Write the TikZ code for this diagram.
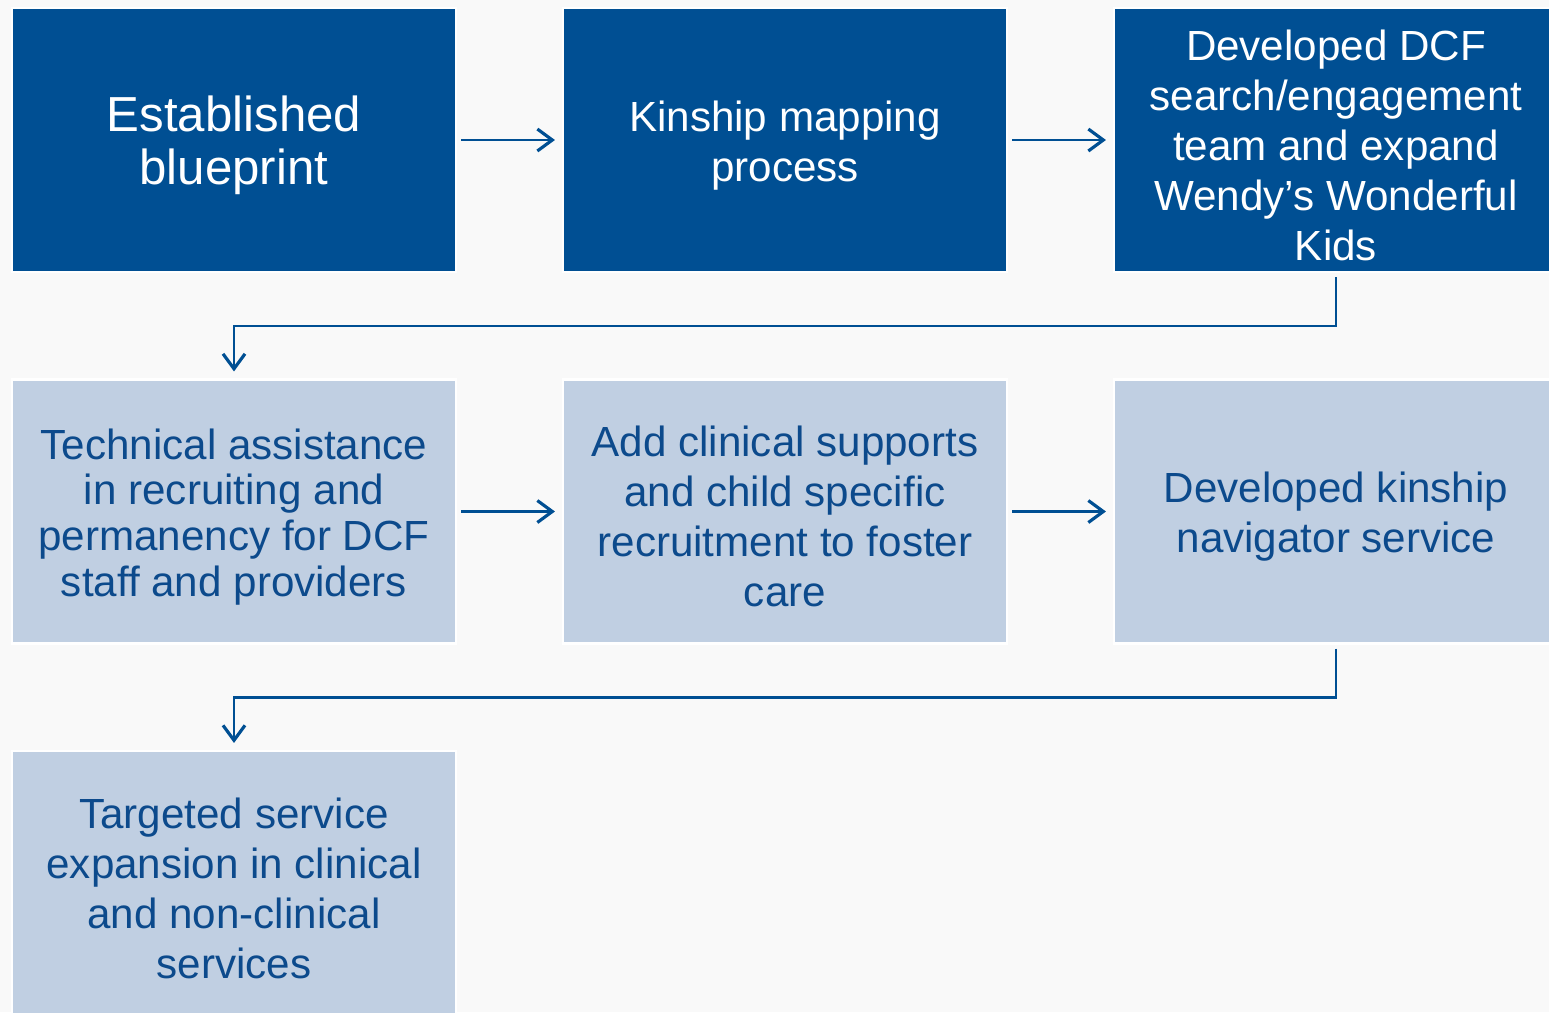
\documentclass[tikz,border=0pt]{standalone}
\usepackage{fontspec}
\setmainfont{Liberation Sans}
\usetikzlibrary{arrows.meta}
\definecolor{bgray}{HTML}{F9F9F9}
\definecolor{dcfblue}{HTML}{004F93}
\definecolor{dcflight}{HTML}{C0CFE2}
\definecolor{dcftext}{HTML}{0C4A8C}

\begin{document}
\begin{tikzpicture}[x=0.02cm, y=-0.02cm,
    darkbox/.style={draw=white, line width=1.2pt, fill=dcfblue,
      minimum width=8.88cm, minimum height=5.28cm},
    lightbox/.style={darkbox, fill=dcflight},
    darktext/.style={text=white, align=center, yshift=-3pt,
      font=\fontsize{24}{28.5}\selectfont},
    lighttext/.style={darktext, text=dcftext},
    arr/.style={draw=dcfblue, line width=1.3pt,
      -{Straight Barb[length=8.5pt, width=12.5pt, line width=1.8pt]},
      shorten <=2.3pt, shorten >=4pt}]
		%%%%% START %%%%%
		
		\clip (0, 0) rectangle (1549, 1012);
		\fill[bgray] (0, 0) rectangle (1549, 1012);
		
		% first row
		\node[darkbox, label={[darktext, font=\fontsize{28}{30}\selectfont]center:{Established\\blueprint}}] (blueprint) at (234, 140) {};
		\node[darkbox, label={[darktext]center:{Kinship mapping\\process}}] (mapping) at (785, 140) {};
		\node[darkbox, label={[darktext]center:{Developed DCF\\search/engagement\\team and expand\\Wendy’s Wonderful\\Kids}}] (search) at (1336, 140) {};
		
		% second row
		\node[lightbox, label={[lighttext, font=\fontsize{24}{26}\selectfont]center:{Technical assistance\\in recruiting and\\permanency for DCF\\staff and providers}}] (assist) at (234, 511.5) {};
		\node[lightbox, label={[lighttext]center:{Add clinical supports\\and child specific\\recruitment to foster\\care}}] (clinical) at (785, 511.5) {};
		\node[lightbox, label={[lighttext]center:{Developed kinship\\navigator service}}] (navigator) at (1336, 511.5) {};
		
		% third row
		\node[lightbox, label={[lighttext]center:{Targeted service\\expansion in clinical\\and non-clinical\\services}}] (targeted) at (234, 883) {};
		
		\draw[arr] (blueprint) -- (mapping);
		\draw[arr] (mapping) -- (search);
		\draw[arr] (search.south) -- ++(0, 53) -| (assist.north);
		
		\draw[arr] (assist) -- (clinical);
		\draw[arr] (clinical) -- (navigator);
		\draw[arr] (navigator.south) -- ++(0, 53) -| (targeted.north);
		
		%%%%% END %%%%%
	\end{tikzpicture}
\end{document}
